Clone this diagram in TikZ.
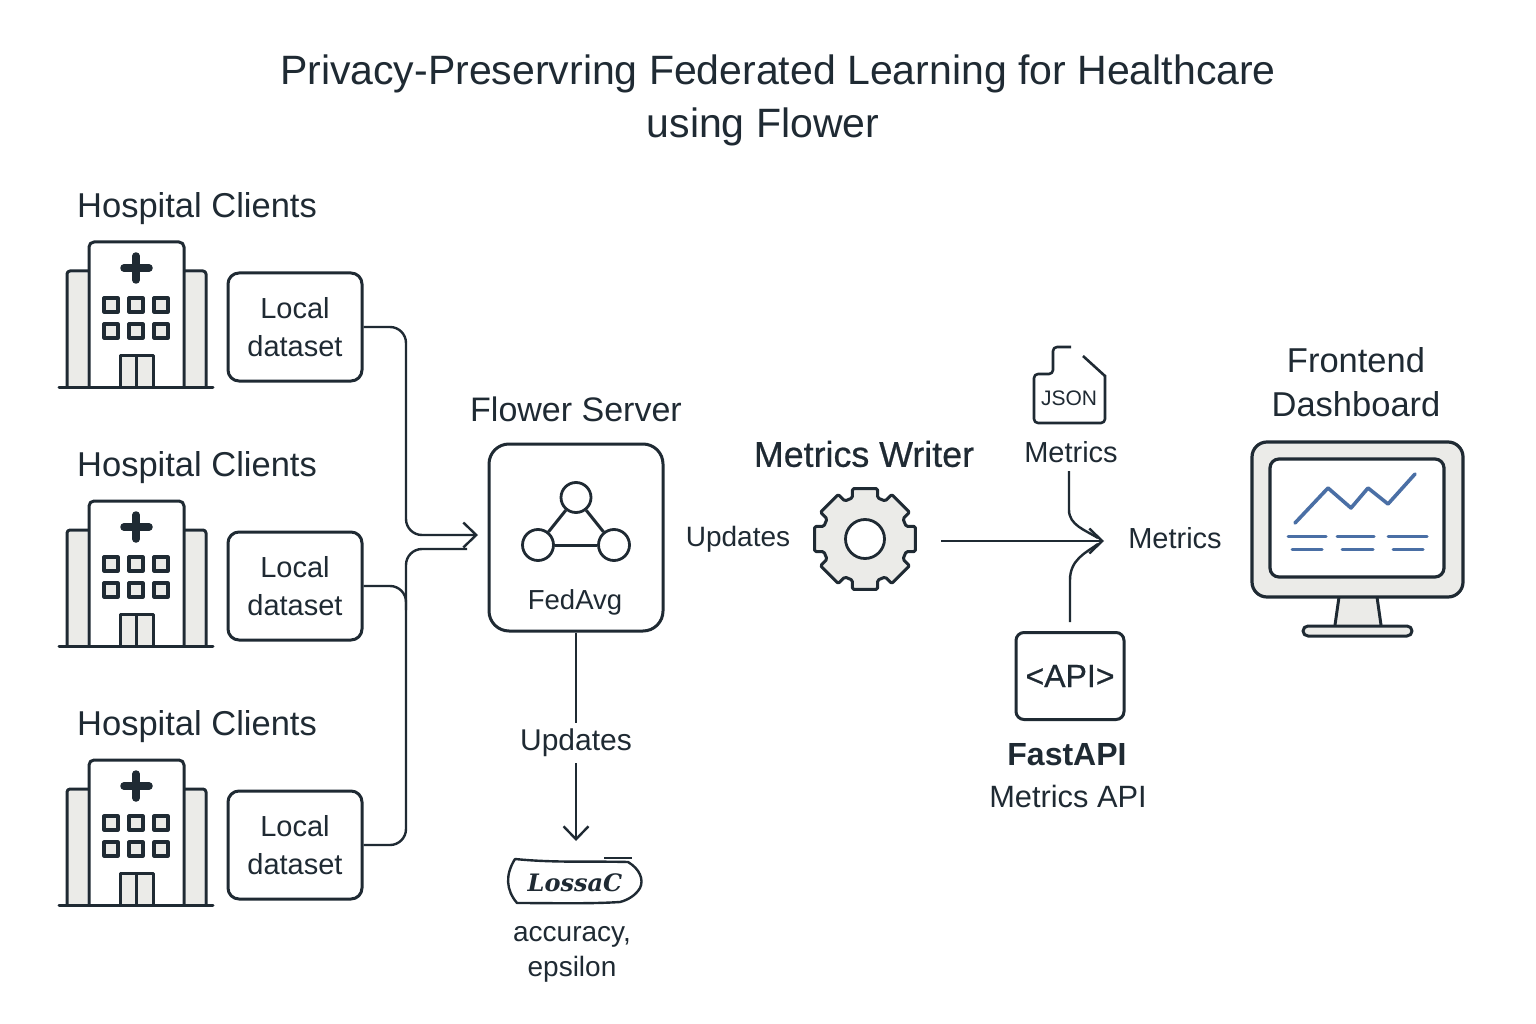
\documentclass[tikz,border=0pt]{standalone}
\usepackage{fontspec}
\setmainfont{Liberation Sans}
\newfontfamily\lossfont{DejaVu Serif}
\newfontfamily\medfont[FakeBold=0.6]{Liberation Sans}
\usetikzlibrary{arrows.meta}
\definecolor{ink}{HTML}{1F2A33}
\definecolor{pale}{HTML}{EBEBE8}
\definecolor{chart}{HTML}{4A6FA5}
\tikzset{
  x=1pt,y=-1pt,
  every node/.style={text=ink,inner sep=0pt,align=center},
  lab/.style={font=\fontsize{34.5}{34.5}\selectfont},
  labb/.style={font=\fontsize{29}{29}\selectfont},
  titlet/.style={font=\fontsize{41}{41}\selectfont},
  icon/.style={draw=ink,line width=3pt,line join=round},
  wire/.style={draw=ink,line width=2.4pt},
  conn/.style={wire,rounded corners=16pt},
  barb/.style={-{Straight Barb[length=13pt,width=25pt,line width=2.4pt]}},
  databox/.style={draw=ink,line width=3pt,rounded corners=11pt,minimum width=134pt,minimum height=108pt,font=\fontsize{29}{38}\selectfont},
  chartline/.style={draw=chart,line width=3pt,line cap=round,line join=round},
  hospital/.pic={
    \fill[pale] (68,273) rectangle (87,386);
    \fill[pale] (186,273) rectangle (204,386);
    \draw[icon,rounded corners=3pt] (89,271) -- (67,271) -- (67,387);
    \draw[icon,rounded corners=3pt] (184,271) -- (206,271) -- (206,387);
    \draw[icon,rounded corners=5pt] (89,387) -- (89,242) -- (184,242) -- (184,387);
    \draw[draw=ink,line width=7.5pt,line cap=round] (124,268) -- (149,268) (136,256) -- (136,280);
    \foreach \wx in {104,129,154}{\foreach \wy in {298,324}{
      \draw[icon,line width=3.2pt,fill=pale] (\wx,\wy) rectangle ++(14,14);}}
    \draw[icon,fill=pale] (120,387) -- (120,355) -- (153,355) -- (153,387);
    \draw[icon] (136,355) -- (136,387);
    \draw[draw=ink,line width=3pt,line cap=round] (59,387) -- (213,387);
  }
}
\begin{document}
\begin{tikzpicture}
\useasboundingbox (0,0) rectangle (1536,1024);
\fill[white] (0,0) rectangle (1536,1024);

\node[titlet] (title1) at (778,74) {Privacy-Preservring Federated Learning for Healthcare};
\node[titlet] (title2) at (763,127) {using Flower};

% hospitals
\foreach \n/\dy in {1/0,2/259,3/518}{
  \node[lab,anchor=west] (hc\n) at (77,209+\dy) {Hospital Clients};
  \pic at (0,\dy) {hospital};
  \node[databox] (d\n) at (295,327+\dy) {Local\\dataset};
}

% server
\node[draw=ink,line width=3pt,rounded corners=20pt,minimum width=174pt,minimum height=187pt] (server) at (576,537.5) {};
\node[font=\fontsize{34}{34}\selectfont] (serverlab) at (576,409) {Flower Server};
\node[draw=ink,line width=2.8pt,circle,minimum size=30pt] (ct) at (576,497.5) {};
\node[draw=ink,line width=2.8pt,circle,minimum size=31pt] (cl) at (538,545) {};
\node[draw=ink,line width=2.8pt,circle,minimum size=31pt] (cr) at (614,545) {};
\draw[icon] (ct) -- (cl);
\draw[icon] (ct) -- (cr);
\draw[icon] (cl) -- (cr);
\node[font=\fontsize{27.5}{27.5}\selectfont] (fedavg) at (575,602) {FedAvg};

% connectors to the server
\coordinate (tip) at (478,535);
\coordinate (low) at (467,549);
\draw[conn,barb] (d1.east) -- (406,327) -- (406,535) -- (tip);
\draw[conn] (d2.east) -- (406,586) -- (406,610);
\draw[conn] (d3.east) -- (406,845) -- (406,549) -- (low);

% updates down
\node[font=\fontsize{30}{30}\selectfont,inner ysep=6pt] (upd1) at (576,743) {Updates};
\draw[wire] (server.south) -- (upd1.north);
\coordinate (lossTop) at (576,841);
\draw[wire,barb] (upd1.south) -- (lossTop);

% loss badge
\draw[wire,line join=round] (515,859) .. controls (555,863) and (590,861) .. (628,862)
  .. controls (640,869) and (644,880) .. (640,888) .. controls (636,895) and (628,900) .. (620,902)
  .. controls (590,904) and (550,903) .. (517,903) .. controls (506,890) and (505,875) .. (515,859) -- cycle;
\draw[draw=ink,line width=1.8pt] (604,858) -- (632,858);
\node[font={\lossfont\bfseries\itshape\fontsize{24}{24}\selectfont}] (loss) at (575,883) {LossaC};
\node[font=\fontsize{28}{35}\selectfont] (acc) at (572,954) {accuracy,\\epsilon};

\node[font=\fontsize{28}{28}\selectfont] (upd2) at (738,539) {Updates};

% metrics writer
\node[font=\medfont\fontsize{35.8}{35.8}\selectfont] (mw) at (864,454) {Metrics Writer};
\begin{scope}[shift={(865,539)}]
\draw[icon,fill=pale,rounded corners=1.5pt]
  (73:43) -- (76:52) -- (104:52) -- (107:43) --
  (118:43) -- (121:52) -- (149:52) -- (152:43) --
  (163:43) -- (166:52) -- (194:52) -- (197:43) --
  (208:43) -- (211:52) -- (239:52) -- (242:43) --
  (253:43) -- (256:52) -- (284:52) -- (287:43) --
  (298:43) -- (301:52) -- (329:52) -- (332:43) --
  (343:43) -- (346:52) -- (14:52) -- (17:43) --
  (28:43) -- (31:52) -- (59:52) -- (62:43) -- cycle;
\end{scope}
\node[draw=ink,line width=2.8pt,fill=white,circle,minimum size=39pt] (hole) at (865,539) {};
\coordinate (gearout) at (941,541);
\coordinate (mergetip) at (1104,541);
\draw[wire,barb] (gearout) -- (mergetip);

% json
\draw[icon,line width=2.6pt,rounded corners=4pt] (1071,347) -- (1053,347) -- (1053,374) -- (1034,374) -- (1034,423) -- (1105,423) -- (1105,375);
\draw[icon,line width=2.6pt] (1105,376) -- (1083,356);
\node[font=\fontsize{21}{21}\selectfont] (json) at (1069,398) {JSON};
\node[labb] (m1) at (1071,452) {Metrics};
\coordinate (m1foot) at (1069,471);
\draw[wire] (m1foot) -- (1069,510) .. controls (1069,525) and (1085,530) .. (1098,538);

% api
\node[draw=ink,line width=3pt,rounded corners=8pt,minimum width=108pt,minimum height=87pt,font=\medfont\fontsize{32}{32}\selectfont] (api) at (1070,676) {<API>};
\coordinate (apitop) at (1070,622);
\draw[wire] (apitop) -- (1070,580) .. controls (1070,560) and (1085,553) .. (1098,544);
\node[font=\fontsize{32}{32}\selectfont\bfseries] (fast) at (1067,755) {FastAPI};
\node[font=\fontsize{30.8}{30.8}\selectfont] (mapi) at (1068,796) {Metrics API};
\node[labb] (m2) at (1175,538) {Metrics};

% dashboard
\node[font=\fontsize{34.5}{44}\selectfont] (fd) at (1356,382) {Frontend\\Dashboard};
\fill[pale] (1339,597) -- (1336,625) -- (1380,625) -- (1376,597) -- cycle;
\draw[icon] (1339,597) -- (1335,625);
\draw[icon] (1377,597) -- (1381,625);
\draw[icon,fill=pale,rounded corners=15pt,line width=3.2pt] (1252,442) rectangle (1463,597);
\draw[icon,fill=white,rounded corners=9pt,line width=3.2pt] (1270,459) rectangle (1444,577);
\draw[icon,fill=pale,rounded corners=5pt] (1303,626) rectangle (1412,636);
\draw[chartline,line width=3.6pt] (1295,523) -- (1328,488) -- (1351,508) -- (1368,488) -- (1388,504) -- (1415,474);
\draw[chartline] (1288,536) -- (1326,536) (1337,536) -- (1374,536) (1388,536) -- (1427,536);
\draw[chartline] (1292,549) -- (1322,549) (1342,549) -- (1373,549) (1393,549) -- (1423,549);
\end{tikzpicture}
\end{document}
